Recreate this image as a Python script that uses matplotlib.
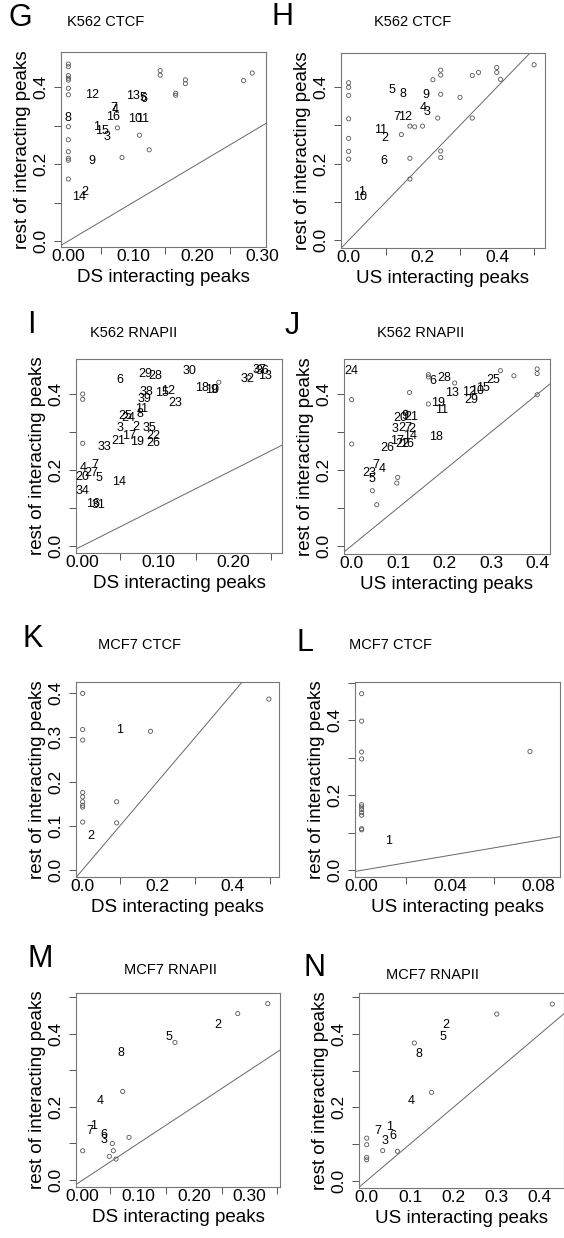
import matplotlib
matplotlib.use("Agg")
import matplotlib.pyplot as plt

plt.rcParams["font.family"] = ["Liberation Sans", "DejaVu Sans"]

W, H = 564, 1238

# ---- panel G: K562 CTCF, DS ----
G_x = [0, 0, 0, 0, 0, 0, 0, 0, 0, 0, 0, 0, 0, 0.142, 0.142, 0.181, 0.181, 0.166, 0.166, 0.271, 0.2845, 0.076, 0.110, 0.125, 0.083]
G_y = [0.460, 0.453, 0.430, 0.423, 0.418, 0.397, 0.380, 0.297, 0.263, 0.232, 0.215, 0.210, 0.161, 0.443, 0.431, 0.419, 0.409, 0.384, 0.379, 0.417, 0.4365, 0.294, 0.275, 0.237, 0.217]
G_lab = ["12", "13", "5", "6", "7", "4", "16", "10", "11", "1", "15", "3", "9", "2", "14", "8"]
G_lab_x = [0.036, 0.100, 0.116, 0.117, 0.071, 0.072, 0.069, 0.103, 0.115, 0.044, 0.052, 0.059, 0.036, 0.026, 0.017, 0.0]
G_lab_y = [0.380, 0.376, 0.372, 0.368, 0.345, 0.340, 0.322, 0.317, 0.317, 0.297, 0.287, 0.270, 0.208, 0.128, 0.115, 0.319]

# ---- panel H: K562 CTCF, US ----
H_x = [0, 0, 0, 0, 0, 0, 0, 0.227, 0.248, 0.248, 0.248, 0.300, 0.333, 0.350, 0.399, 0.399, 0.409, 0.4996, 0.240, 0.333, 0.165, 0.178, 0.199, 0.142, 0.165, 0.248, 0.248, 0.165]
H_y = [0.411, 0.399, 0.378, 0.317, 0.266, 0.232, 0.212, 0.419, 0.444, 0.431, 0.381, 0.373, 0.430, 0.438, 0.451, 0.438, 0.420, 0.458, 0.319, 0.319, 0.298, 0.296, 0.298, 0.276, 0.214, 0.233, 0.216, 0.160]
H_lab = ["5", "8", "9", "4", "3", "7", "12", "11", "2", "6", "1", "10"]
H_lab_x = [0.117, 0.145, 0.209, 0.202, 0.211, 0.130, 0.152, 0.087, 0.097, 0.094, 0.036, 0.030]
H_lab_y = [0.391, 0.382, 0.380, 0.344, 0.334, 0.322, 0.323, 0.287, 0.267, 0.208, 0.125, 0.113]

# ---- panel I: K562 RNAPII, DS ----
I_x = [0, 0, 0, 0.181, 0.221, 0.232]
I_y = [0.400, 0.386, 0.270, 0.431, 0.444, 0.464]
I_lab = ["6", "29", "28", "30", "32", "37", "36", "13", "18", "10", "9", "38", "15", "12", "39", "23",
         "11", "8", "25", "24", "3", "2", "35", "17", "21", "22", "19", "26", "33", "4", "7", "27",
         "20", "5", "14", "34", "16", "31"]
I_lab_x = [0.0498, 0.083, 0.0964, 0.142, 0.2187, 0.2356, 0.2387, 0.243, 0.1587, 0.172, 0.175, 0.0844, 0.105, 0.114, 0.0818, 0.123,
           0.0787, 0.0764, 0.056, 0.061, 0.0498, 0.071, 0.0889, 0.061, 0.0476, 0.0933, 0.072, 0.0933, 0.0289, 0.0009, 0.0164, 0.012,
           0.0, 0.0218, 0.049, 0.0, 0.0133, 0.021]
I_lab_y = [0.436, 0.454, 0.448, 0.4615, 0.4396, 0.464, 0.460, 0.448, 0.416, 0.410, 0.410, 0.405, 0.4035, 0.409, 0.387, 0.376,
           0.3605, 0.347, 0.342, 0.337, 0.310, 0.312, 0.310, 0.290, 0.277, 0.290, 0.2725, 0.271, 0.259, 0.205, 0.2136, 0.192,
           0.180, 0.1785, 0.167, 0.145, 0.110, 0.106]

# ---- panel J: K562 RNAPII, US ----
J_x = [0, 0, 0.165, 0.165, 0.1245, 0.2216, 0.320, 0.349, 0.399, 0.399, 0.399, 0.165, 0.1165, 0.0446, 0.054, 0.099, 0.097]
J_y = [0.385, 0.268, 0.451, 0.445, 0.404, 0.429, 0.4615, 0.448, 0.466, 0.454, 0.398, 0.3736, 0.352, 0.145, 0.108, 0.180, 0.165]
J_lab = ["24", "6", "28", "25", "15", "13", "12", "10", "29", "19", "11", "20", "9", "21", "3", "27",
         "2", "14", "17", "22", "16", "18", "26", "7", "4", "23", "5"]
J_lab_x = [0.0, 0.174, 0.199, 0.304, 0.283, 0.216, 0.252, 0.270, 0.257, 0.1856, 0.194, 0.104, 0.115, 0.129, 0.0935, 0.115,
           0.129, 0.126, 0.098, 0.108, 0.120, 0.181, 0.077, 0.052, 0.0647, 0.037, 0.0446]
J_lab_y = [0.460, 0.435, 0.442, 0.438, 0.416, 0.403, 0.406, 0.407, 0.385, 0.376, 0.357, 0.337, 0.341, 0.339, 0.308, 0.310,
           0.308, 0.288, 0.276, 0.269, 0.269, 0.2857, 0.2576, 0.212, 0.202, 0.192, 0.177]

# ---- panel K: MCF7 CTCF, DS ----
K_x = [0, 0, 0, 0, 0, 0, 0, 0, 0, 0.0907, 0.0907, 0.181, 0.497]
K_y = [0.400, 0.318, 0.294, 0.175, 0.165, 0.154, 0.146, 0.142, 0.108, 0.154, 0.106, 0.314, 0.387]
K_lab = ["1", "2"]
K_lab_x = [0.0996, 0.0213]
K_lab_y = [0.317, 0.0765]

# ---- panel L: MCF7 CTCF, US ----
L_x = [0, 0, 0, 0, 0, 0, 0, 0, 0, 0, 0, 0.0762]
L_y = [0.471, 0.398, 0.3156, 0.297, 0.175, 0.169, 0.162, 0.154, 0.147, 0.111, 0.108, 0.317]
L_lab = ["1"]
L_lab_x = [0.0121]
L_lab_y = [0.078]

# ---- panel M: MCF7 RNAPII, DS ----
M_x = [0, 0.333, 0.279, 0.166, 0.072, 0.0834, 0.0534, 0.0552, 0.048, 0.060]
M_y = [0.080, 0.482, 0.4547, 0.376, 0.242, 0.1166, 0.100, 0.080, 0.0647, 0.0574]
M_lab = ["2", "5", "8", "4", "7", "1", "6", "3"]
M_lab_x = [0.244, 0.156, 0.069, 0.0324, 0.0132, 0.0204, 0.039, 0.0384]
M_lab_y = [0.4246, 0.390, 0.347, 0.2168, 0.135, 0.1485, 0.124, 0.110]

# ---- panel N: MCF7 RNAPII, US ----
N_x = [0, 0, 0, 0, 0.037, 0.071, 0.1498, 0.110, 0.3004, 0.4286]
N_y = [0.116, 0.098, 0.0636, 0.057, 0.082, 0.080, 0.241, 0.3755, 0.4545, 0.4818]
N_lab = ["2", "5", "8", "4", "7", "1", "6", "3"]
N_lab_x = [0.183, 0.175, 0.121, 0.1027, 0.026, 0.0525, 0.060, 0.0425]
N_lab_y = [0.4255, 0.391, 0.3455, 0.218, 0.1345, 0.1455, 0.121, 0.109]

# tick labels (labelled ticks) and unlabelled tick positions
G_xt = ["0.00", "0.10", "0.20", "0.30"]; G_xm = [0.05, 0.15, 0.25]
H_xt = ["0.0", "0.2", "0.4"]; H_xm = [0.1, 0.3, 0.5]
I_xt = ["0.00", "0.10", "0.20"]; I_xm = [0.05, 0.15, 0.25]
J_xt = ["0.0", "0.1", "0.2", "0.3", "0.4"]; J_xm = []
K_xt = ["0.0", "0.2", "0.4"]; K_xm = [0.1, 0.3, 0.5]
L_xt = ["0.00", "0.04", "0.08"]; L_xm = [0.02, 0.06]
M_xt = ["0.00", "0.10", "0.20", "0.30"]; M_xm = [0.05, 0.15, 0.25, 0.35]
N_xt = ["0.0", "0.1", "0.2", "0.3", "0.4"]; N_xm = []
yt_std = ["0.0", "0.2", "0.4"]
K_yt = ["0.0", "0.1", "0.2", "0.3", "0.4"]

panels = [
    # letter, title, xlabel, box px (x0, y0, x1, y1), xlim, ylim, data, ticks, letter pos, title pos
    dict(letter="G", title="K562 CTCF", xlab="DS", box=(61, 52, 266, 247), xlim=(-0.0114, 0.3057), ylim=(-0.0157, 0.4913),
         pts=(G_x, G_y), lab=(G_lab, G_lab_x, G_lab_y), xt=G_xt, xm=G_xm, yt=yt_std, ym=[0.1, 0.3],
         lpos=(20, 18), tpos=(106, 22)),
    dict(letter="H", title="K562 CTCF", xlab="US", box=(341, 53, 545, 248), xlim=(-0.0206, 0.529), ylim=(-0.020, 0.4887),
         pts=(H_x, H_y), lab=(H_lab, H_lab_x, H_lab_y), xt=H_xt, xm=H_xm, yt=yt_std, ym=[0.1, 0.3],
         lpos=(282, 17), tpos=(413, 22)),
    dict(letter="I", title="K562 RNAPII", xlab="DS", box=(76, 359, 282, 553), xlim=(-0.0089, 0.265), ylim=(-0.0193, 0.4923),
         pts=(I_x, I_y), lab=(I_lab, I_lab_x, I_lab_y), xt=I_xt, xm=I_xm, yt=yt_std, ym=[0.1, 0.3],
         lpos=(31, 325), tpos=(134, 333)),
    dict(letter="J", title="K562 RNAPII", xlab="US", box=(344, 359, 550, 554), xlim=(-0.0165, 0.4266), ylim=(-0.022, 0.4923),
         pts=(J_x, J_y), lab=(J_lab, J_lab_x, J_lab_y), xt=J_xt, xm=J_xm, yt=yt_std, ym=[0.1, 0.3],
         lpos=(292, 326), tpos=(421, 333)),
    dict(letter="K", title="MCF7 CTCF", xlab="DS", box=(76, 682, 279, 877), xlim=(-0.0178, 0.524), ylim=(-0.0167, 0.4258),
         pts=(K_x, K_y), lab=(K_lab, K_lab_x, K_lab_y), xt=K_xt, xm=K_xm, yt=K_yt, ym=[],
         lpos=(33, 639), tpos=(140, 645)),
    dict(letter="L", title="MCF7 CTCF", xlab="US", box=(355, 682, 560, 877), xlim=(-0.003, 0.0898), ylim=(-0.0178, 0.5022),
         pts=(L_x, L_y), lab=(L_lab, L_lab_x, L_lab_y), xt=L_xt, xm=L_xm, yt=yt_std, ym=[0.1, 0.3, 0.5],
         lpos=(305, 643), tpos=(390, 645)),
    dict(letter="M", title="MCF7 RNAPII", xlab="DS", box=(76, 993, 280, 1187), xlim=(-0.012, 0.355), ylim=(-0.019, 0.511),
         pts=(M_x, M_y), lab=(M_lab, M_lab_x, M_lab_y), xt=M_xt, xm=M_xm, yt=yt_std, ym=[0.1, 0.3, 0.5],
         lpos=(40, 959), tpos=(170, 970)),
    dict(letter="N", title="MCF7 RNAPII", xlab="US", box=(359, 993, 564, 1188), xlim=(-0.0178, 0.4556), ylim=(-0.020, 0.512),
         pts=(N_x, N_y), lab=(N_lab, N_lab_x, N_lab_y), xt=N_xt, xm=N_xm, yt=yt_std, ym=[0.1, 0.3, 0.5],
         lpos=(314, 968), tpos=(432, 975)),
]

fig = plt.figure(figsize=(W / 100, H / 100), dpi=100)

for p in panels:
    x0, y0, x1, y1 = p["box"]
    ax = fig.add_axes([x0 / W, 1 - y1 / H, (x1 - x0) / W, (y1 - y0) / H])
    ax.set_xlim(*p["xlim"])
    ax.set_ylim(*p["ylim"])

    ax.axline((0, 0), slope=1, color="#666666", lw=0.7)
    ax.scatter(p["pts"][0], p["pts"][1], s=9, facecolors="none", edgecolors="#555555", linewidths=0.6)
    for s, tx, ty in zip(*p["lab"]):
        ax.text(tx, ty, s, ha="center", va="center", fontsize=9, color="black")

    ax.set_xticks([float(t) for t in p["xt"]])
    ax.set_xticklabels(p["xt"], fontsize=12.5)
    ax.set_xticks(p["xm"], minor=True)
    ax.set_yticks([float(t) for t in p["yt"]])
    ax.set_yticklabels(p["yt"], fontsize=12.5, rotation=90, va="center")
    ax.set_yticks(p["ym"], minor=True)
    ax.tick_params(axis="x", which="major", length=0, pad=1.5, colors="#555555", labelcolor="black")
    ax.tick_params(axis="x", which="minor", length=5, width=0.7, colors="#555555")
    ax.tick_params(axis="y", which="both", length=5, width=0.7, pad=4, colors="#555555", labelcolor="black")

    for sp in ax.spines.values():
        sp.set_color("#777777")
        sp.set_linewidth(0.8)

    ax.set_xlabel(p["xlab"] + " interacting peaks", fontsize=13.5, labelpad=3.5)
    ax.set_ylabel("rest of interacting peaks", fontsize=13.5, labelpad=2)

    fig.text(p["lpos"][0] / W, 1 - p["lpos"][1] / H, p["letter"], fontsize=22, ha="center", va="center")
    fig.text(p["tpos"][0] / W, 1 - p["tpos"][1] / H, p["title"], fontsize=10.5, ha="center", va="center")

fig.savefig("out.png", dpi=100)
